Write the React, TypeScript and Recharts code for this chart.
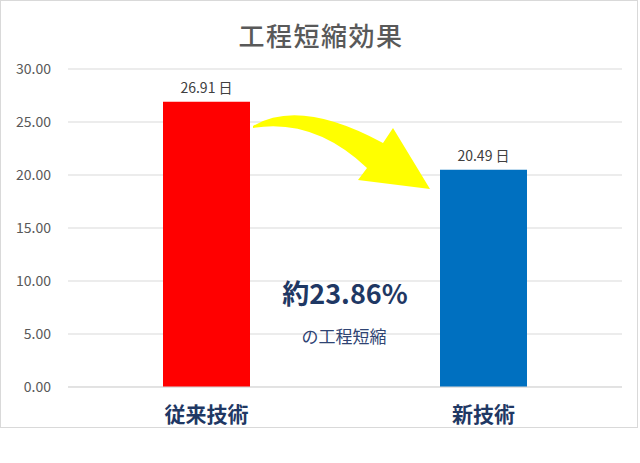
import { BarChart, Bar, XAxis, YAxis, CartesianGrid, Cell, LabelList } from "recharts"

const categories = ["従来技術", "新技術"]
const days = [26.91, 20.49]
const barColors = ["#ff0000", "#0070c0"]
const yTicks = [0, 5, 10, 15, 20, 25, 30]

const data = categories.map((name, i) => ({ name, value: days[i] }))

const FONT = '"Noto Sans CJK JP", "Noto Sans", sans-serif'

const CategoryTick = ({ x, y, payload }: any) => (
  <text
    x={x}
    y={y + 18}
    textAnchor="middle"
    dominantBaseline="central"
    fontFamily={FONT}
    fontSize={21}
    fontWeight={700}
    fill="#1f3864"
  >
    {payload.value}
  </text>
)

const App = () => {
  return (
    <div style={{ position: "absolute", left: 0, top: 0, width: 640, height: 463, background: "#fff" }}>
      <div
        style={{
          position: "absolute",
          left: 0,
          top: 0,
          width: 638,
          height: 428,
          border: "1px solid #d9d9d9",
          boxSizing: "border-box",
        }}
      >
        <BarChart
          width={636}
          height={426}
          data={data}
          margin={{ top: 68, right: 15, left: 0, bottom: 0 }}
          barSize={87}
        >
          <CartesianGrid vertical={false} stroke="#d9d9d9" />
          <XAxis
            dataKey="name"
            height={40}
            axisLine={{ stroke: "#d9d9d9" }}
            tickLine={false}
            tick={<CategoryTick />}
          />
          <YAxis
            width={67}
            domain={[0, 30]}
            ticks={yTicks}
            axisLine={false}
            tickLine={false}
            tickMargin={11}
            tickFormatter={(v: number) => v.toFixed(2)}
            tick={{ fill: "#595959", fontSize: 14, fontFamily: FONT }}
          />
          <Bar dataKey="value" isAnimationActive={false}>
            {data.map((d, i) => (
              <Cell key={d.name} fill={barColors[i]} />
            ))}
            <LabelList
              dataKey="value"
              position="top"
              offset={9}
              formatter={(v: any) => `${Number(v).toFixed(2)} 日`}
              style={{ fill: "#404040", fontSize: 14, fontFamily: FONT }}
            />
          </Bar>
        </BarChart>
      </div>
      <svg
        width={640}
        height={463}
        style={{ position: "absolute", left: 0, top: 0, pointerEvents: "none" }}
      >
        <text
          x={321}
          y={34}
          textAnchor="middle"
          dominantBaseline="central"
          fontFamily={FONT}
          fontSize={26}
          fontWeight={500}
          letterSpacing={1.5}
          fill="#595959"
        >
          工程短縮効果
        </text>
        {/* yellow curved arrow */}
        <path
          d="M 253 126 Q 300 98 383 143 L 393 128 L 430 189 L 358 180 L 367 168 Q 314 118 253 128 Z"
          fill="#ffff00"
        />
        <text
          x={345}
          y={292}
          textAnchor="middle"
          dominantBaseline="central"
          fontFamily={FONT}
          fontSize={27}
          fontWeight={700}
          fill="#1f3864"
        >
          約23.86%
        </text>
        <text
          x={344}
          y={335}
          textAnchor="middle"
          dominantBaseline="central"
          fontFamily={FONT}
          fontSize={17}
          fill="#2f4473"
        >
          の工程短縮
        </text>
      </svg>
    </div>
  )
}

export default App
